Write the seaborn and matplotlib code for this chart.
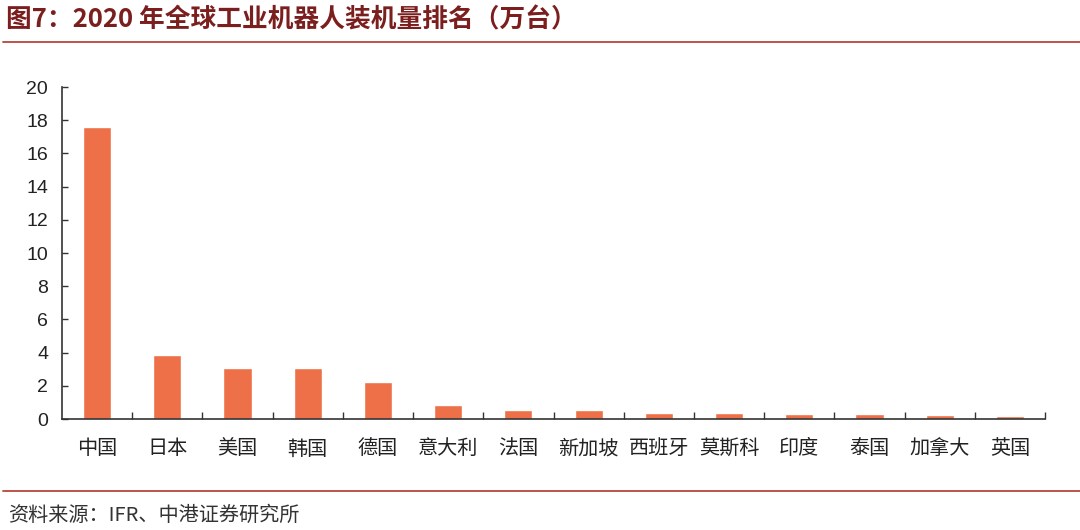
import matplotlib
matplotlib.use('Agg')
import matplotlib.pyplot as plt
import seaborn as sns
import pandas as pd
import numpy as np
from matplotlib.lines import Line2D
from matplotlib.ticker import FixedLocator

# data (万台)
countries = ['中国', '日本', '美国', '韩国', '德国', '意大利', '法国',
             '新加坡', '西班牙', '莫斯科', '印度', '泰国', '加拿大', '英国']
installs = [17.6, 3.86, 3.08, 3.05, 2.22, 0.84, 0.53,
            0.52, 0.35, 0.35, 0.33, 0.28, 0.26, 0.21]
y_ticks = [0, 2, 4, 6, 8, 10, 12, 14, 16, 18, 20]

title = '图7：2020 年全球工业机器人装机量排名（万台）'
source = '资料来源：IFR、中港证券研究所'

bar_color = '#EE7048'
title_color = '#7B1E1E'
rule_color = '#B5473A'

sns.set_style('white')
plt.rcParams['font.family'] = ['Noto Sans CJK SC', 'DejaVu Sans']

df = pd.DataFrame({'country': countries, 'value': installs})

fig = plt.figure(figsize=(10.8, 5.3), dpi=100)
ax = fig.add_axes([62 / 1080, 1 - 419 / 530, (1045 - 62) / 1080, (419 - 87) / 530])

sns.barplot(data=df, x='country', y='value', color=bar_color, width=0.4,
            saturation=1, ax=ax)

ax.set_xlim(-0.5, len(countries) - 0.5)
ax.set_ylim(0, 20)
ax.set_yticks(y_ticks)
ax.set_yticklabels([str(t) for t in y_ticks], family='Liberation Sans', fontsize=14)
ax.set_xlabel('')
ax.set_ylabel('')

# ticks between categories pointing up (seaborn's white style hides ticks)
ax.tick_params(axis='x', which='major', bottom=False, length=0, pad=14,
               labelsize=14.5, labelcolor='#222222')
ax.xaxis.set_minor_locator(FixedLocator(np.arange(0.5, len(countries), 1.0)))
ax.tick_params(axis='x', which='minor', bottom=True, direction='in', length=5,
               width=1, color='#333333')
ax.tick_params(axis='y', left=True, direction='in', length=4, width=1,
               color='#333333', pad=10, labelcolor='#222222')

for s in ['top', 'right']:
    ax.spines[s].set_visible(False)
for s in ['left', 'bottom']:
    ax.spines[s].set_color('#333333')
    ax.spines[s].set_linewidth(1.2)

# header and footer
fig.text(6 / 1080, 1 - 20 / 530, title, fontsize=18.5, fontweight='bold',
         color=title_color, va='center', ha='left')
fig.add_artist(Line2D([3 / 1080, 1], [1 - 42 / 530] * 2, color=rule_color,
                      lw=1.3, transform=fig.transFigure))
fig.add_artist(Line2D([3 / 1080, 1], [1 - 491 / 530] * 2, color=rule_color,
                      lw=1.3, transform=fig.transFigure))
fig.text(8 / 1080, 1 - 515 / 530, source, fontsize=14.5, style='italic',
         color='#333333', va='center', ha='left')

fig.savefig('out.png', dpi=100)
